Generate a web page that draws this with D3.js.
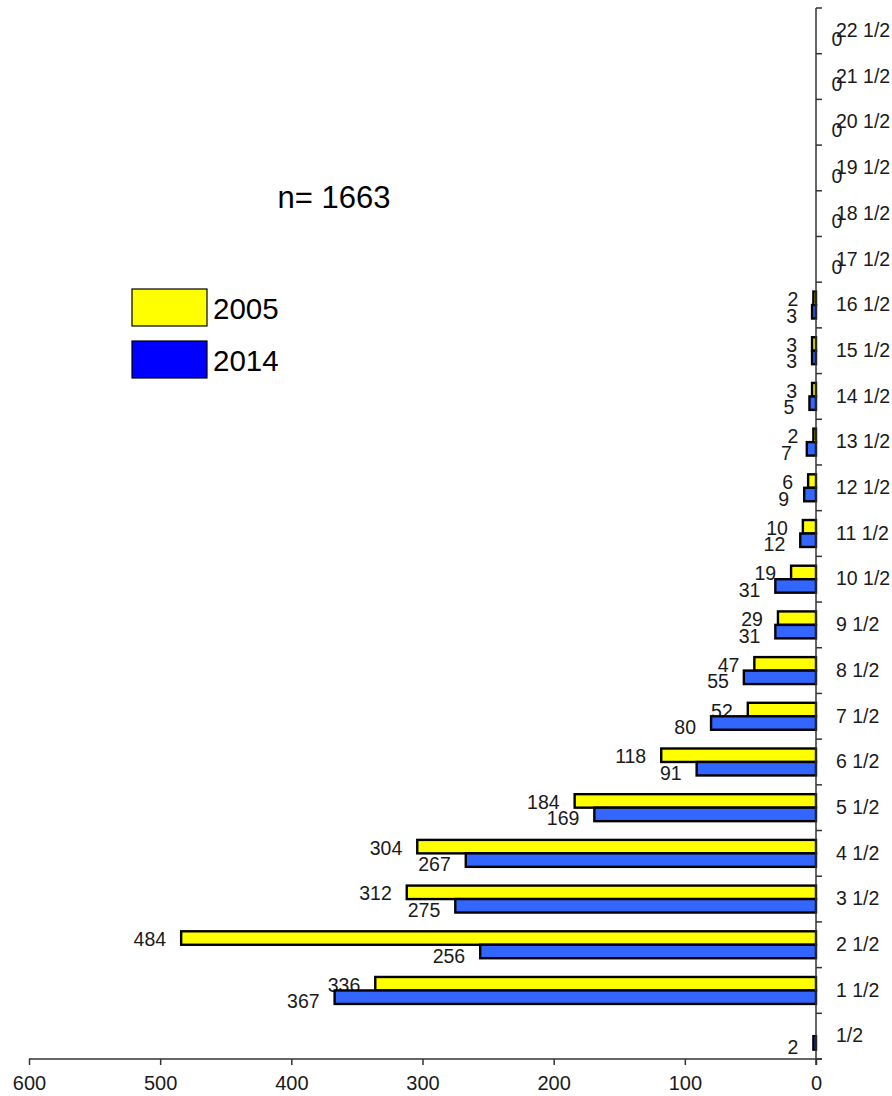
<!DOCTYPE html>
<html>
<head>
<meta charset="utf-8">
<script src="https://cdn.jsdelivr.net/npm/d3@7"></script>
<style>
  html, body { margin: 0; padding: 0; background: #fff; }
  svg { display: block; font-family: "Liberation Sans", Arial, sans-serif; }
</style>
</head>
<body>
<svg id="chart" width="892" height="1096"></svg>
<script>
// ---- data ----
const categories = ["1/2", "1 1/2", "2 1/2", "3 1/2", "4 1/2", "5 1/2", "6 1/2", "7 1/2",
  "8 1/2", "9 1/2", "10 1/2", "11 1/2", "12 1/2", "13 1/2", "14 1/2", "15 1/2", "16 1/2",
  "17 1/2", "18 1/2", "19 1/2", "20 1/2", "21 1/2", "22 1/2"];
const values2005 = [null, 336, 484, 312, 304, 184, 118, 52, 47, 29, 19, 10, 6, 2, 3, 3, 2,
  null, null, null, null, null, null];
const values2014 = [2, 367, 256, 275, 267, 169, 91, 80, 55, 31, 31, 12, 9, 7, 5, 3, 3,
  0, 0, 0, 0, 0, 0];
const seriesNames = ["2005", "2014"];
const xTicks = [0, 100, 200, 300, 400, 500, 600];
const totalLabel = "n= 1663";

// ---- styles ----
const barColors = ["#ffff00", "#3366ff"];
const legendColors = ["#ffff00", "#0000ff"];
const axisColor = "#333";
const textColor = "#1a1a1a";
const fontSmall = 19.5;

const svg = d3.select("#chart");

const x = d3.scaleLinear().domain([0, 600]).range([816, 29]);
const y = d3.scaleBand().domain(categories).range([1059, 8]).padding(0);
const bw = y.bandwidth();
const barH = bw * 0.295;

const rows = categories.map((c, i) => ({ cat: c, v: [values2005[i], values2014[i]] }));

// bars
const g = svg.append("g");
seriesNames.forEach((s, si) => {
  const data = rows.filter(r => r.v[si] !== null);
  g.selectAll("rect.s" + si).data(data).enter().append("rect")
    .attr("class", "s" + si)
    .attr("x", d => x(d.v[si]))
    .attr("y", d => y(d.cat) + bw / 2 - barH + si * barH)
    .attr("width", d => x(0) - x(d.v[si]))
    .attr("height", barH)
    .attr("fill", barColors[si])
    .attr("stroke", "#000")
    .attr("stroke-width", 2.4);
  // value labels
  g.selectAll("text.l" + si).data(data).enter().append("text")
    .attr("class", "l" + si)
    .attr("x", d => d.v[si] === 0 ? x(0) + 21 : x(d.v[si]) - 15)
    .attr("y", d => {
      const c = y(d.cat) + bw / 2 - barH / 2 + si * barH;
      return d.v[si] === 0 ? c + 1 : c + (si === 0 ? 1 : 4);
    })
    .attr("text-anchor", d => d.v[si] === 0 ? "middle" : "end")
    .attr("dominant-baseline", "central")
    .attr("font-size", fontSmall)
    .attr("fill", textColor)
    .text(d => d.v[si]);
});

// y axis (right side, category labels)
const yAxis = d3.axisRight(y).tickSize(0).tickPadding(20);
const ya = svg.append("g").attr("transform", `translate(${x(0)},0)`).call(yAxis);
ya.select(".domain").remove();
ya.selectAll("text").attr("font-size", fontSmall).attr("fill", textColor)
  .attr("font-family", "Liberation Sans, Arial, sans-serif");
// boundary ticks
const bounds = categories.map(c => y(c)).concat([y(categories[0]) + bw]);
svg.append("g").selectAll("line").data(bounds).enter().append("line")
  .attr("x1", x(0)).attr("x2", x(0) + 6)
  .attr("y1", d => d).attr("y2", d => d)
  .attr("stroke", axisColor).attr("stroke-width", 1.5);
svg.append("line")
  .attr("x1", x(0)).attr("x2", x(0))
  .attr("y1", 8).attr("y2", 1065)
  .attr("stroke", axisColor).attr("stroke-width", 1.5);

// x axis
const xAxis = d3.axisBottom(x).tickValues(xTicks).tickSize(6).tickSizeOuter(0).tickPadding(11);
const xa = svg.append("g").attr("transform", "translate(0,1059)").call(xAxis);
xa.select(".domain").remove();
xa.selectAll(".tick line").attr("stroke", axisColor).attr("stroke-width", 1.5);
xa.selectAll("text").attr("font-size", 20).attr("fill", textColor)
  .attr("font-family", "Liberation Sans, Arial, sans-serif");
svg.append("line")
  .attr("x1", x(600)).attr("x2", x(0) + 6)
  .attr("y1", 1059).attr("y2", 1059)
  .attr("stroke", axisColor).attr("stroke-width", 1.5);

// n label
svg.append("text")
  .attr("x", 334).attr("y", 208)
  .attr("text-anchor", "middle")
  .attr("font-size", 31)
  .attr("fill", "#000")
  .text(totalLabel);

// legend
const lg = svg.append("g");
seriesNames.forEach((s, si) => {
  lg.append("rect")
    .attr("x", 132).attr("y", 289 + si * 52)
    .attr("width", 75).attr("height", 37)
    .attr("fill", legendColors[si])
    .attr("stroke", "#000").attr("stroke-width", 1.2);
  lg.append("text")
    .attr("x", 213).attr("y", 289 + si * 52 + 19)
    .attr("dominant-baseline", "central")
    .attr("font-size", 29.5)
    .attr("fill", "#000")
    .text(s);
});
</script>
</body>
</html>
